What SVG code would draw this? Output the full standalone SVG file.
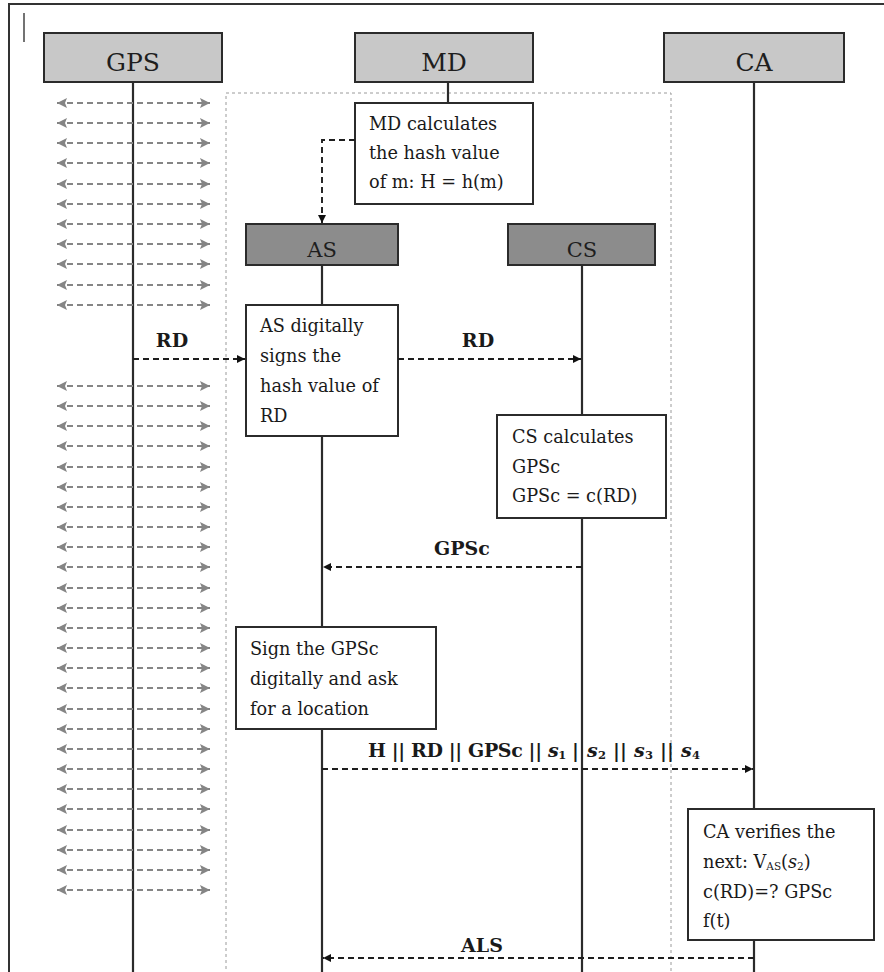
<svg xmlns="http://www.w3.org/2000/svg" width="884" height="972" viewBox="0 0 884 972">
<defs>
<style>
.frame{stroke:#333;stroke-width:2;fill:none}
.hdr{fill:#c8c8c8;stroke:#2b2b2b;stroke-width:2}
.dk{fill:#8c8c8c;stroke:#2b2b2b;stroke-width:2}
.note{fill:#fff;stroke:#2b2b2b;stroke-width:2}
.life{stroke:#2b2b2b;stroke-width:2.2;fill:none}
.zone{fill:none;stroke:#9a9a9a;stroke-width:1;stroke-dasharray:3 3}
.ga{stroke:#858585;stroke-width:1.8;stroke-dasharray:6 4;fill:none;marker-start:url(#gh);marker-end:url(#gh)}
.msg{stroke:#1e1e1e;stroke-width:1.9;stroke-dasharray:6 4;fill:none;marker-end:url(#bh)}
.ht{font-family:"DejaVu Serif","Liberation Serif",serif;font-size:25px;fill:#1e1e1e;text-anchor:middle}
.nt{font-family:"DejaVu Serif","Liberation Serif",serif;font-size:17.7px;fill:#1a1a1a}
.lb{font-family:"DejaVu Serif","Liberation Serif",serif;font-size:19px;font-weight:bold;fill:#1a1a1a}
</style>
<marker id="gh" markerUnits="userSpaceOnUse" markerWidth="10" markerHeight="10" refX="10" refY="5" orient="auto-start-reverse"><path d="M0,0 L10,5 L0,10 L2,5 z" fill="#858585"/></marker>
<marker id="bh" markerUnits="userSpaceOnUse" markerWidth="8" markerHeight="8" refX="8" refY="4" orient="auto"><path d="M0,0 L8,4 L0,8 z" fill="#111"/></marker>
</defs>
<rect width="884" height="972" fill="#fff"/>
<path class="frame" d="M9,972 V4 H884"/>
<line x1="24" y1="13" x2="24" y2="42" stroke="#444" stroke-width="1.5"/>
<rect class="zone" x="226" y="93" width="445" height="890"/>

<g id="lifelines">
<line class="life" x1="133" y1="82" x2="133" y2="972"/>
<line class="life" x1="448" y1="82" x2="448" y2="103"/>
<line class="life" x1="322" y1="265" x2="322" y2="972"/>
<line class="life" x1="582" y1="265" x2="582" y2="972"/>
<line class="life" x1="754" y1="82" x2="754" y2="972"/>
</g>

<g id="gps-arrows">
<line class="ga" x1="57" y1="103" x2="210" y2="103"/>
<line class="ga" x1="57" y1="123" x2="210" y2="123"/>
<line class="ga" x1="57" y1="143" x2="210" y2="143"/>
<line class="ga" x1="57" y1="163" x2="210" y2="163"/>
<line class="ga" x1="57" y1="184" x2="210" y2="184"/>
<line class="ga" x1="57" y1="204" x2="210" y2="204"/>
<line class="ga" x1="57" y1="224" x2="210" y2="224"/>
<line class="ga" x1="57" y1="244" x2="210" y2="244"/>
<line class="ga" x1="57" y1="264" x2="210" y2="264"/>
<line class="ga" x1="57" y1="285" x2="210" y2="285"/>
<line class="ga" x1="57" y1="305" x2="210" y2="305"/>
<line class="ga" x1="57" y1="386" x2="210" y2="386"/>
<line class="ga" x1="57" y1="406" x2="210" y2="406"/>
<line class="ga" x1="57" y1="426" x2="210" y2="426"/>
<line class="ga" x1="57" y1="446" x2="210" y2="446"/>
<line class="ga" x1="57" y1="467" x2="210" y2="467"/>
<line class="ga" x1="57" y1="487" x2="210" y2="487"/>
<line class="ga" x1="57" y1="507" x2="210" y2="507"/>
<line class="ga" x1="57" y1="527" x2="210" y2="527"/>
<line class="ga" x1="57" y1="547" x2="210" y2="547"/>
<line class="ga" x1="57" y1="567" x2="210" y2="567"/>
<line class="ga" x1="57" y1="588" x2="210" y2="588"/>
<line class="ga" x1="57" y1="608" x2="210" y2="608"/>
<line class="ga" x1="57" y1="628" x2="210" y2="628"/>
<line class="ga" x1="57" y1="648" x2="210" y2="648"/>
<line class="ga" x1="57" y1="668" x2="210" y2="668"/>
<line class="ga" x1="57" y1="688" x2="210" y2="688"/>
<line class="ga" x1="57" y1="709" x2="210" y2="709"/>
<line class="ga" x1="57" y1="729" x2="210" y2="729"/>
<line class="ga" x1="57" y1="749" x2="210" y2="749"/>
<line class="ga" x1="57" y1="769" x2="210" y2="769"/>
<line class="ga" x1="57" y1="789" x2="210" y2="789"/>
<line class="ga" x1="57" y1="809" x2="210" y2="809"/>
<line class="ga" x1="57" y1="830" x2="210" y2="830"/>
<line class="ga" x1="57" y1="850" x2="210" y2="850"/>
<line class="ga" x1="57" y1="870" x2="210" y2="870"/>
<line class="ga" x1="57" y1="890" x2="210" y2="890"/>
</g>

<g id="GPS"><rect class="hdr" x="44" y="33" width="178" height="49"/><text class="ht" x="133" y="71">GPS</text></g>
<g id="MD"><rect class="hdr" x="355" y="33" width="178" height="49"/><text class="ht" x="444" y="71">MD</text></g>
<g id="CA"><rect class="hdr" x="664" y="33" width="180" height="49"/><text class="ht" x="754" y="71">CA</text></g>
<g id="AS"><rect class="dk" x="246" y="224" width="152" height="41"/><text class="ht" x="322" y="257" style="font-size:21px">AS</text></g>
<g id="CS"><rect class="dk" x="508" y="224" width="147" height="41"/><text class="ht" x="582" y="257" style="font-size:21px">CS</text></g>

<g id="md-calc"><rect class="note" x="355" y="103" width="178" height="101"/>
<text class="nt" x="369" y="130">MD calculates</text>
<text class="nt" x="369" y="159">the hash value</text>
<text class="nt" x="369" y="188">of m:  H = h(m)</text></g>

<g id="as-sign"><rect class="note" x="246" y="305" width="152" height="131"/>
<text class="nt" x="260" y="332">AS digitally</text>
<text class="nt" x="260" y="362">signs the</text>
<text class="nt" x="260" y="392">hash value of</text>
<text class="nt" x="260" y="422">RD</text></g>

<g id="cs-calc"><rect class="note" x="497" y="415" width="169" height="103"/>
<text class="nt" x="512" y="443">CS calculates</text>
<text class="nt" x="512" y="473">GPSc</text>
<text class="nt" x="512" y="502">GPSc = c(RD)</text></g>

<g id="sign-gpsc"><rect class="note" x="236" y="627" width="200" height="102"/>
<text class="nt" x="250" y="655">Sign the GPSc</text>
<text class="nt" x="250" y="685">digitally and ask</text>
<text class="nt" x="250" y="715">for a  location</text></g>

<g id="ca-verify"><rect class="note" x="688" y="809" width="186" height="131"/>
<text class="nt" x="703" y="838">CA verifies the</text>
<text class="nt" x="703" y="868">next: V<tspan font-size="10.5" dy="2">AS</tspan><tspan dy="-2">(</tspan><tspan font-style="italic">s</tspan><tspan font-size="10.5" dy="2">2</tspan><tspan dy="-2">)</tspan></text>
<text class="nt" x="703" y="898">c(RD)=? GPSc</text>
<text class="nt" x="703" y="927">f(t)</text></g>

<g id="connectors">
<path class="msg" d="M355,140 H322 V223"/>
<line class="msg" x1="133" y1="359" x2="245" y2="359"/>
<line class="msg" x1="398" y1="359" x2="581" y2="359"/>
<line class="msg" x1="582" y1="567" x2="323" y2="567"/>
<line class="msg" x1="322" y1="769" x2="753" y2="769"/>
<line class="msg" x1="754" y1="958" x2="323" y2="958"/>
<text class="lb" x="172" y="347" text-anchor="middle">RD</text>
<text class="lb" x="478" y="347" text-anchor="middle">RD</text>
<text class="lb" x="462" y="555" text-anchor="middle">GPSc</text>
<text class="lb" x="368" y="757" textLength="211" lengthAdjust="spacing">H || RD || GPSc || <tspan font-style="italic">s</tspan><tspan font-size="11.5" dy="2">1</tspan><tspan dy="-2"> |</tspan></text>
<text class="lb" x="587" y="757" textLength="113" lengthAdjust="spacing"><tspan font-style="italic">s</tspan><tspan font-size="11.5" dy="2">2</tspan><tspan dy="-2"> || </tspan><tspan font-style="italic">s</tspan><tspan font-size="11.5" dy="2">3</tspan><tspan dy="-2"> || </tspan><tspan font-style="italic">s</tspan><tspan font-size="11.5" dy="2">4</tspan></text>
<text class="lb" x="482" y="952" text-anchor="middle">ALS</text>
</g>
</svg>
